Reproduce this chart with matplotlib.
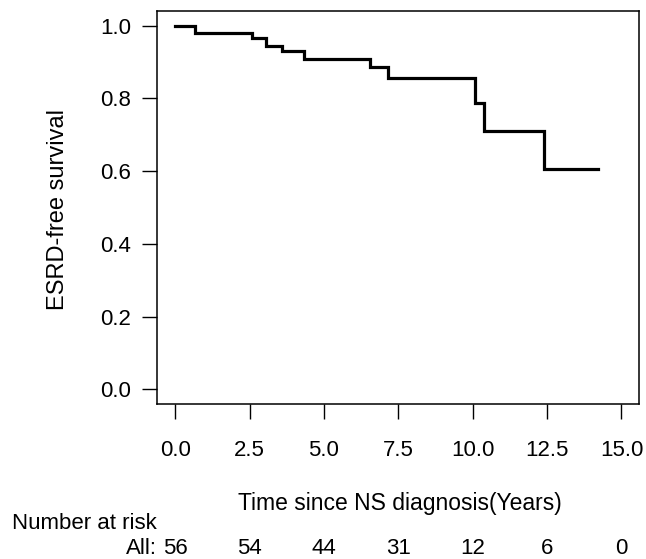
import matplotlib
matplotlib.use("Agg")
import matplotlib.pyplot as plt
import matplotlib.transforms as mtransforms

# Kaplan-Meier step data
event_times = [0.0, 0.67, 2.57, 3.06, 3.60, 4.32, 6.56, 7.14, 10.07, 10.39, 12.40]
survival = [1.0, 0.980, 0.965, 0.943, 0.929, 0.908, 0.886, 0.857, 0.786, 0.710, 0.605]
last_time = 14.20

risk_times = [0, 2.5, 5, 7.5, 10, 12.5, 15]
at_risk = [56, 54, 44, 31, 12, 6, 0]

x_ticks = [0, 2.5, 5, 7.5, 10, 12.5, 15]
x_ticklabels = ["0.0", "2.5", "5.0", "7.5", "10.0", "12.5", "15.0"]
y_ticks = [0, 0.2, 0.4, 0.6, 0.8, 1.0]
y_ticklabels = ["0.0", "0.2", "0.4", "0.6", "0.8", "1.0"]

plt.rcParams['font.family'] = ['Liberation Sans', 'DejaVu Sans']
FS = 16

W, H = 646, 559
fig = plt.figure(figsize=(W / 100, H / 100), dpi=100)
left, right, top, bottom = 157.3, 639.3, 11, 404
ax = fig.add_axes([left / W, 1 - bottom / H, (right - left) / W, (bottom - top) / H])

xs = event_times + [last_time]
ys = survival + [survival[-1]]
ax.step(xs, ys, where='post', color='black', lw=2.3, solid_joinstyle='miter')

ax.set_xlim(-0.6, 15.6)
ax.set_ylim(-0.04, 1.04)
ax.set_xticks(x_ticks)
ax.set_xticklabels(x_ticklabels)
ax.set_yticks(y_ticks)
ax.set_yticklabels(y_ticklabels)
ax.tick_params(axis='x', length=11, width=1.0, pad=15, labelsize=FS, direction='out')
ax.tick_params(axis='y', length=11, width=1.0, pad=8, labelsize=FS, direction='out')
for s in ax.spines.values():
    s.set_linewidth(1.1)

fig.text(58 / W, 1 - 209 / H, "ESRD-free survival", fontsize=17, rotation=90,
         ha='center', va='center')

# x label
fig.text(400 / W, 1 - 510 / H, "Time since NS diagnosis(Years)", fontsize=16.5,
         ha='center', va='baseline')
fig.text(11.5 / W, 1 - 529 / H, "Number at risk", fontsize=FS, ha='left', va='baseline')

trans = mtransforms.blended_transform_factory(ax.transData, fig.transFigure)
yrow = 1 - 554 / H
for t, n in zip(risk_times, at_risk):
    ax.text(t, yrow, str(n), transform=trans, fontsize=FS, ha='center', va='baseline',
            clip_on=False)
fig.text(157.3 / W, yrow, "All:", fontsize=FS, ha='right', va='baseline')

fig.savefig("out.png", dpi=100)
